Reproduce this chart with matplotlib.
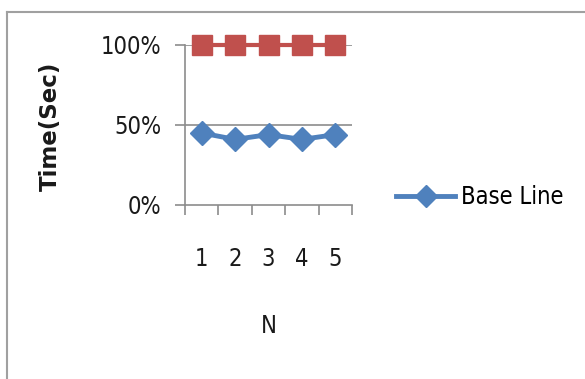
import numpy as np
import matplotlib
matplotlib.use('Agg')
import matplotlib.pyplot as plt
from matplotlib.lines import Line2D

plt.rcParams['font.family'] = ['DejaVu Sans']
plt.rcParams['font.stretch'] = 'condensed'

# data
n_labels = ['1', '2', '3', '4', '5']
base_line = [0.45, 0.41, 0.44, 0.41, 0.44]
reference = [1.0, 1.0, 1.0, 1.0, 1.0]
y_ticks = [0, 0.5, 1.0]
y_tick_labels = ['0%', '50%', '100%']

blue = '#4F81BD'
red = '#C0504D'
gray = '#8C8C8C'
txt = '#1A1A1A'
fs = 17

fig = plt.figure(figsize=(5.85, 3.79), dpi=100)
ax = fig.add_axes([185/585, 1-205/379, (352-185)/585, 160/379])

x = np.arange(1, len(n_labels) + 1)
ax.plot(x, reference, color=red, lw=3, marker='s', ms=15, clip_on=False, zorder=3)
ax.plot(x, base_line, color=blue, lw=3.5, marker='D', ms=12, clip_on=False,
        zorder=4, label='Base Line')

ax.set_xlim(0.5, len(n_labels) + 0.5)
ax.set_ylim(0, 1)

# y axis
ax.set_yticks(y_ticks)
ax.set_yticklabels(y_tick_labels, fontsize=fs, color=txt)
ax.tick_params(axis='y', direction='out', length=7, width=1.2, color=gray, pad=10)
for yv in y_ticks[1:]:
    ax.axhline(yv, color=gray, lw=1.2, zorder=1)

# x axis: ticks between categories, labels well below
ax.set_xticks(np.arange(0.5, len(n_labels) + 1, 1.0))
ax.set_xticklabels([])
ax.tick_params(axis='x', which='major', direction='out', length=7, width=1.2, color=gray)
ax.set_xticks(x, minor=True)
ax.set_xticklabels(n_labels, minor=True, fontsize=fs, color=txt)
ax.tick_params(axis='x', which='minor', length=0, pad=30)

for s in ['top', 'right']:
    ax.spines[s].set_visible(False)
for s in ['left', 'bottom']:
    ax.spines[s].set_color(gray)
    ax.spines[s].set_linewidth(1.2)

ax.set_ylabel('Time(Sec)', fontsize=16.5, fontweight='bold', fontstretch='normal', color=txt)
ax.yaxis.set_label_coords(-0.735, 0.49)
ax.set_xlabel('N', fontsize=fs, color=txt)
ax.xaxis.set_label_coords(0.50, -0.68)

fig.legend(handles=[Line2D([], [], color=blue, lw=3.5, marker='D', ms=11)],
           labels=['Base Line'], loc='center left',
           bbox_to_anchor=(375/585, 1-197/379), frameon=False,
           fontsize=fs, handlelength=2.5, handletextpad=0.25)

# outer chart frame
fig.add_artist(Line2D([7/585, 7/585], [0, 1-12/379], color='#A0A0A0', lw=1.5))
fig.add_artist(Line2D([7/585, 1], [1-12/379, 1-12/379], color='#A0A0A0', lw=1.5))

fig.savefig('out.png', dpi=100)
